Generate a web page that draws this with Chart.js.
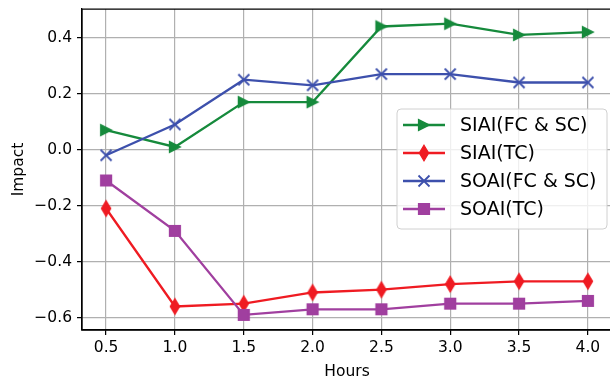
<!DOCTYPE html>
<html>
<head>
<meta charset="utf-8">
<script src="https://cdn.jsdelivr.net/npm/chart.js@4.4.1/dist/chart.umd.min.js"></script>
<style>
  html, body { margin: 0; padding: 0; background: #fff; overflow: hidden; }
  #wrap { width: 614px; height: 383px; }
</style>
</head>
<body>
<div id="wrap"><canvas id="c" width="614" height="383"></canvas></div>
<script>
// ---- data ----
const hours = [0.5, 1.0, 1.5, 2.0, 2.5, 3.0, 3.5, 4.0];
const siaiFcSc = [0.07, 0.01, 0.17, 0.17, 0.44, 0.45, 0.41, 0.42];
const siaiTc = [-0.21, -0.56, -0.55, -0.51, -0.50, -0.48, -0.47, -0.47];
const soaiFcSc = [-0.02, 0.09, 0.25, 0.23, 0.27, 0.27, 0.24, 0.24];
const soaiTc = [-0.11, -0.29, -0.59, -0.57, -0.57, -0.55, -0.55, -0.54];
const seriesNames = ['SIAI(FC & SC)', 'SIAI(TC)', 'SOAI(FC & SC)', 'SOAI(TC)'];
const xTicks = [0.5, 1.0, 1.5, 2.0, 2.5, 3.0, 3.5, 4.0];
const yTicks = [-0.6, -0.4, -0.2, 0.0, 0.2, 0.4];
const xLabel = 'Hours';
const yLabel = 'Impact';

// ---- styling ----
const colors = ['#168a3c', '#ef1b22', '#3d50ac', '#a03f9f'];
const FONT = '"DejaVu Sans", sans-serif';
const MS = 11;

function makeMarker(kind, color) {
  const c = document.createElement('canvas');
  c.width = 18; c.height = 20;
  const g = c.getContext('2d');
  const cx = c.width / 2, cy = c.height / 2, h = MS / 2;
  g.fillStyle = color; g.strokeStyle = color; g.lineWidth = 1.2; g.lineJoin = 'miter';
  g.beginPath();
  if (kind === 'tri') {
    g.moveTo(cx + h, cy); g.lineTo(cx - h, cy - h); g.lineTo(cx - h, cy + h); g.closePath();
    g.fill(); g.stroke();
  } else if (kind === 'dia') {
    const hh = MS * 0.7071, hw = MS * 0.7071 * 0.6;
    g.moveTo(cx, cy - hh); g.lineTo(cx + hw, cy); g.lineTo(cx, cy + hh); g.lineTo(cx - hw, cy); g.closePath();
    g.fill(); g.stroke();
  } else if (kind === 'x') {
    g.lineWidth = 1.8;
    g.moveTo(cx - h, cy - h); g.lineTo(cx + h, cy + h);
    g.moveTo(cx - h, cy + h); g.lineTo(cx + h, cy - h);
    g.stroke();
  } else {
    g.rect(cx - h, cy - h, MS, MS); g.fill(); g.stroke();
  }
  return c;
}
const markers = [makeMarker('tri', colors[0]), makeMarker('dia', colors[1]), makeMarker('x', colors[2]), makeMarker('sq', colors[3])];

const allSeries = [siaiFcSc, siaiTc, soaiFcSc, soaiTc];
const datasets = allSeries.map((vals, i) => ({
  label: seriesNames[i],
  data: hours.map((x, j) => ({ x: x, y: vals[j] })),
  borderColor: colors[i],
  backgroundColor: colors[i],
  borderWidth: 2.3,
  pointStyle: markers[i],
  pointRadius: 6,
  pointHoverRadius: 6,
  tension: 0,
  order: 3 - i
}));

const fmt = v => (v < 0 ? '\u2212' + Math.abs(v).toFixed(1) : v.toFixed(1));
const noPad = s => { s.paddingLeft = 0; s.paddingRight = 0; s.paddingTop = 0; s.paddingBottom = 0; };

const framePlugin = {
  id: 'frame',
  afterDatasetsDraw(chart) {
    const { ctx, chartArea: a } = chart;
    ctx.save();
    ctx.strokeStyle = '#000'; ctx.lineWidth = 1.25;
    ctx.beginPath();
    ctx.moveTo(a.left, a.top); ctx.lineTo(a.right, a.top);
    ctx.lineTo(a.right, a.bottom); ctx.lineTo(a.left, a.bottom); ctx.lineTo(a.left, a.top);
    ctx.stroke();
    ctx.restore();
  }
};

const legendPlugin = {
  id: 'inlegend',
  afterDraw(chart) {
    const ctx = chart.ctx;
    const x0 = 397, y0 = 109, w = 210, h = 120, r = 4;
    ctx.save();
    ctx.beginPath();
    ctx.moveTo(x0 + r, y0); ctx.lineTo(x0 + w - r, y0); ctx.arcTo(x0 + w, y0, x0 + w, y0 + r, r);
    ctx.lineTo(x0 + w, y0 + h - r); ctx.arcTo(x0 + w, y0 + h, x0 + w - r, y0 + h, r);
    ctx.lineTo(x0 + r, y0 + h); ctx.arcTo(x0, y0 + h, x0, y0 + h - r, r);
    ctx.lineTo(x0, y0 + r); ctx.arcTo(x0, y0, x0 + r, y0, r); ctx.closePath();
    ctx.fillStyle = 'rgba(255,255,255,0.8)'; ctx.fill();
    ctx.strokeStyle = '#d0d0d0'; ctx.lineWidth = 1; ctx.stroke();
    ctx.font = '19px ' + FONT;
    ctx.textBaseline = 'middle'; ctx.textAlign = 'left'; ctx.fillStyle = '#000';
    for (let i = 0; i < seriesNames.length; i++) {
      const y = 125 + i * 28;
      ctx.strokeStyle = colors[i]; ctx.lineWidth = 2.3;
      ctx.beginPath(); ctx.moveTo(403, y); ctx.lineTo(445, y); ctx.stroke();
      const m = markers[i];
      ctx.drawImage(m, 424 - m.width / 2, y - m.height / 2);
      ctx.fillStyle = '#000';
      ctx.fillText(seriesNames[i], 460, y + 1);
    }
    ctx.restore();
  }
};

new Chart(document.getElementById('c'), {
  type: 'line',
  data: { datasets },
  options: {
    responsive: false,
    animation: false,
    devicePixelRatio: 1,
    layout: { autoPadding: false, padding: { left: 0, right: 2, top: 9, bottom: 0 } },
    plugins: { legend: { display: false }, tooltip: { enabled: false } },
    scales: {
      x: {
        type: 'linear', min: 0.325, max: 4.175,
        afterBuildTicks: s => { s.ticks = xTicks.map(v => ({ value: v })); },
        afterFit: s => { s.height = 53; noPad(s); },
        ticks: { callback: v => v.toFixed(1), font: { family: FONT, size: 15.5 }, color: '#000', padding: 4, maxRotation: 0, autoSkip: false },
        grid: { color: '#b0b0b0', lineWidth: 1.2, tickColor: '#000', tickLength: 5, tickWidth: 1.25 },
        border: { display: true, color: '#000', width: 1.25 },
        title: { display: true, text: xLabel, font: { family: FONT, size: 15.5 }, color: '#000', padding: { top: 0, bottom: 2 } }
      },
      y: {
        type: 'linear', min: -0.644, max: 0.5025,
        afterBuildTicks: s => { s.ticks = yTicks.map(v => ({ value: v })); },
        afterFit: s => { s.width = 82; noPad(s); },
        ticks: { callback: v => fmt(v), font: { family: FONT, size: 15.5 }, color: '#000', padding: 5, autoSkip: false },
        grid: { color: '#b0b0b0', lineWidth: 1.2, tickColor: '#000', tickLength: 5, tickWidth: 1.25 },
        border: { display: true, color: '#000', width: 1.25 },
        title: { display: true, text: yLabel, font: { family: FONT, size: 15.5 }, color: '#000', padding: { top: 10, bottom: 0 } }
      }
    }
  },
  plugins: [framePlugin, legendPlugin]
});
</script>
</body>
</html>
